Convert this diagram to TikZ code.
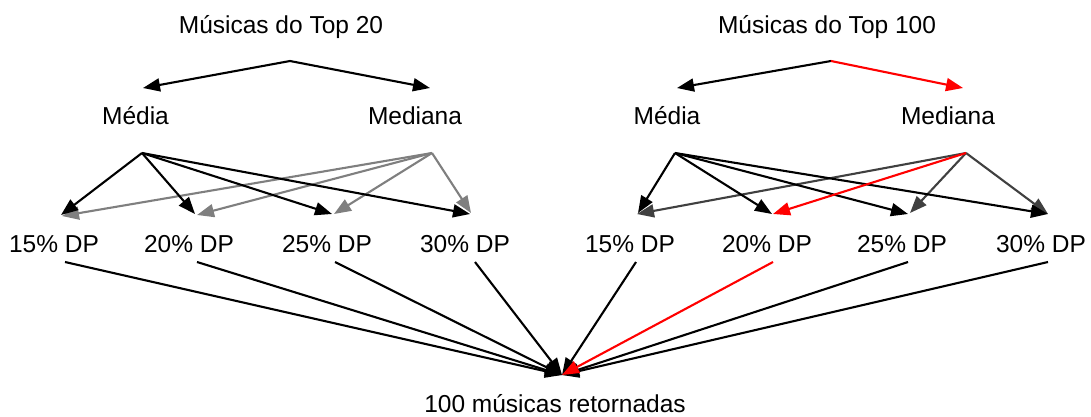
\documentclass[tikz,border=0pt]{standalone}
\usepackage{fontspec}
\setmainfont{Liberation Sans}
\usetikzlibrary{arrows.meta}
\definecolor{lgray}{HTML}{7F7F7F}
\definecolor{dgray}{HTML}{404040}
\definecolor{ared}{HTML}{FF0000}
\begin{document}
\begin{tikzpicture}[x=1pt,y=-1pt,
  lbl/.style={inner sep=0pt,anchor=base,font=\fontsize{24.5}{29}\selectfont},
  arr/.style={line width=2.1pt,-{Triangle[length=17pt,width=13pt]}}]
\useasboundingbox (0,0) rectangle (1091,416);
% ---- left tree
\node[lbl] (t20) at (281,33) {Músicas do Top 20};
\node[lbl] (ma) at (135.5,124) {Média};
\node[lbl] (me) at (415,124) {Mediana};
\coordinate (t20s) at (290,61);
\coordinate (maT) at (143,88);
\coordinate (meT) at (430,88);
\coordinate (maS) at (142,153);
\coordinate (meS) at (432,153);
\node[lbl] (a15) at (54,252) {15\% DP};
\node[lbl] (a20) at (189,252) {20\% DP};
\node[lbl] (a25) at (327,252) {25\% DP};
\node[lbl] (a30) at (465,252) {30\% DP};
\coordinate (a15b) at (61,215);
\coordinate (a15g) at (62,216);
\coordinate (a20b) at (195,214);
\coordinate (a20g) at (197,215);
\coordinate (a25b) at (332,214);
\coordinate (a25g) at (334,214);
\coordinate (a30b) at (470,214);
\coordinate (a30g) at (471,213);
\draw[arr] (t20s) -- (maT);
\draw[arr] (t20s) -- (meT);
\draw[arr,lgray] (meS) -- (a15g);
\draw[arr,lgray] (meS) -- (a20g);
\draw[arr,lgray] (meS) -- (a25g);
\draw[arr,lgray] (meS) -- (a30g);
\draw[arr] (maS) -- (a15b);
\draw[arr] (maS) -- (a20b);
\draw[arr] (maS) -- (a25b);
\draw[arr] (maS) -- (a30b);
% ---- right tree
\node[lbl] (t100) at (827,33) {Músicas do Top 100};
\node[lbl] (mb) at (667,124) {Média};
\node[lbl] (mf) at (948,124) {Mediana};
\coordinate (t100s) at (831,61);
\coordinate (mbT) at (677,88);
\coordinate (mfT) at (963,88);
\coordinate (mbS) at (675,153);
\coordinate (mfS) at (966,153);
\node[lbl] (b15) at (630,252) {15\% DP};
\node[lbl] (b20) at (767,252) {20\% DP};
\node[lbl] (b25) at (902,252) {25\% DP};
\node[lbl] (b30) at (1041,252) {30\% DP};
\coordinate (b15b) at (638,213);
\coordinate (b15g) at (637,214);
\coordinate (b20b) at (772,214);
\coordinate (b20g) at (773,214);
\coordinate (b25b) at (908,214);
\coordinate (b25g) at (910,213);
\coordinate (b30b) at (1048,214);
\coordinate (b30g) at (1048,214);
\draw[arr] (t100s) -- (mbT);
\draw[arr,ared] (t100s) -- (mfT);
\draw[arr,dgray] (mfS) -- (b15g);
\draw[arr,dgray] (mfS) -- (b25g);
\draw[arr,dgray] (mfS) -- (b30g);
\draw[arr] (mbS) -- (b15b);
\draw[arr] (mbS) -- (b20b);
\draw[arr] (mbS) -- (b25b);
\draw[arr] (mbS) -- (b30b);
\draw[arr,ared] (mfS) -- (b20g);
% ---- bottom
\node[lbl] (res) at (555,412) {100 músicas retornadas};
\coordinate (rT) at (562,375);
\coordinate (s1) at (65,262);
\coordinate (s2) at (197,262);
\coordinate (s3) at (335,262);
\coordinate (s4) at (475,262);
\coordinate (s5) at (636,262);
\coordinate (s6) at (773,262);
\coordinate (s7) at (908,262);
\coordinate (s8) at (1048,262);
\foreach \s in {s1,s2,s3,s4,s5,s7,s8} \draw[arr] (\s) -- (rT);
\draw[arr,ared] (s6) -- (rT);
\end{tikzpicture}
\end{document}
